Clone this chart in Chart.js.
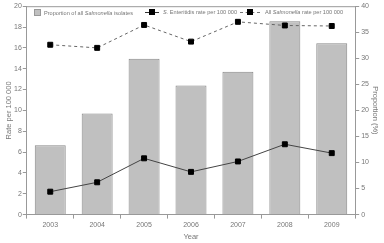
<!DOCTYPE html>
<html>
<head>
<meta charset="utf-8">
<script src="https://cdn.jsdelivr.net/npm/chart.js@4"></script>
<style>
  html, body { margin: 0; padding: 0; background: #fff; }
  #wrap { position: relative; width: 384px; height: 243px; }
  #legend { position: absolute; left: 34px; top: 9px; font: 5.6px "Liberation Sans", Arial, sans-serif; color: #777; white-space: nowrap; line-height: 6px; }
  #legend span.item { position: absolute; top: 0; }
  .box { display: inline-block; width: 5px; height: 5px; background: #c0c0c0; border: 1px solid #999; vertical-align: -1px; margin-right: 3px; }
  .sym { display: inline-block; position: relative; width: 14px; height: 6px; vertical-align: -1px; margin-right: 4px; }
  .sym.w { width: 20px; margin-right: 5px; }
  .sym i { position: absolute; left: 0; right: 0; top: 3px; border-top: 1px solid #333; }
  .sym i.d { border-top: 1px dashed #777; }
  .sym b { position: absolute; left: 4px; top: 0; width: 6px; height: 6px; background: #000; }
  .sym.w b { left: 7px; }
</style>
</head>
<body>
<div id="wrap">
  <canvas id="c" width="384" height="243"></canvas>
  <div id="legend">
    <span class="item" style="left:0"><span class="box"></span>Proportion of all <i>Salmonella</i> isolates</span>
    <span class="item" style="left:111px"><span class="sym"><i></i><b></b></span><i>S.</i> Enteritidis rate per 100 000</span>
    <span class="item" style="left:206px"><span class="sym w"><i class="d"></i><b></b></span>All <i>Salmonella</i> rate per 100 000</span>
  </div>
</div>
<script>
const years = ['2003', '2004', '2005', '2006', '2007', '2008', '2009'];
const proportion = [13.3, 19.4, 29.9, 24.8, 27.4, 37.1, 32.9];
const enteritidisRate = [2.2, 3.1, 5.4, 4.1, 5.1, 6.75, 5.9];
const allSalmonellaRate = [16.3, 16.0, 18.2, 16.6, 18.5, 18.15, 18.1];

const grey = '#777';
const font = { family: '"Liberation Sans", Arial, sans-serif', size: 7 };
const titleFont = { family: '"Liberation Sans", Arial, sans-serif', size: 7.5 };

const frame = {
  id: 'frame',
  afterDraw(chart) {
    const a = chart.chartArea, ctx = chart.ctx;
    ctx.save();
    ctx.strokeStyle = '#999';
    ctx.lineWidth = 1;
    ctx.beginPath();
    ctx.moveTo(a.left, a.top + 0.5);
    ctx.lineTo(a.right, a.top + 0.5);
    ctx.stroke();
    ctx.restore();
  }
};

new Chart(document.getElementById('c'), {
  data: {
    labels: years,
    datasets: [
      {
        type: 'line',
        data: enteritidisRate,
        yAxisID: 'y',
        borderColor: '#444',
        borderWidth: 1,
        pointStyle: 'rect',
        pointRadius: 3.5,
        pointBackgroundColor: '#000',
        pointBorderColor: '#000',
        order: 1
      },
      {
        type: 'line',
        data: allSalmonellaRate,
        yAxisID: 'y',
        borderColor: '#666',
        borderWidth: 1,
        borderDash: [3, 3],
        pointStyle: 'rect',
        pointRadius: 3.5,
        pointBackgroundColor: '#000',
        pointBorderColor: '#000',
        order: 2
      },
      {
        type: 'bar',
        data: proportion,
        yAxisID: 'y1',
        backgroundColor: '#c0c0c0',
        borderColor: '#888',
        borderWidth: 1,
        categoryPercentage: 1,
        barPercentage: 0.66,
        order: 3
      }
    ]
  },
  options: {
    responsive: false,
    animation: false,
    layout: { padding: { top: 2, bottom: 2, left: 4, right: 2 } },
    plugins: { legend: { display: false }, tooltip: { enabled: false } },
    scales: {
      x: {
        grid: { drawOnChartArea: false, tickLength: 4, color: '#999' },
        border: { color: '#999' },
        ticks: { color: grey, font: font, padding: 2 },
        title: { display: true, text: 'Year', color: grey, font: titleFont, padding: { top: 1, bottom: 0 } }
      },
      y: {
        position: 'left',
        min: 0, max: 20,
        grid: { drawOnChartArea: false, tickLength: 4, color: '#999' },
        border: { color: '#999' },
        ticks: { stepSize: 2, color: grey, font: font, padding: 1 },
        title: { display: true, text: 'Rate per 100 000', color: grey, font: titleFont, padding: { top: 0, bottom: 0 } }
      },
      y1: {
        position: 'right',
        min: 0, max: 40,
        grid: { drawOnChartArea: false, tickLength: 4, color: '#999' },
        border: { color: '#999' },
        ticks: { stepSize: 5, color: grey, font: font, padding: 2 },
        title: { display: true, text: 'Proportion (%)', color: grey, font: titleFont, padding: { top: 2, bottom: 0 } }
      }
    }
  },
  plugins: [frame]
});
</script>
</body>
</html>
